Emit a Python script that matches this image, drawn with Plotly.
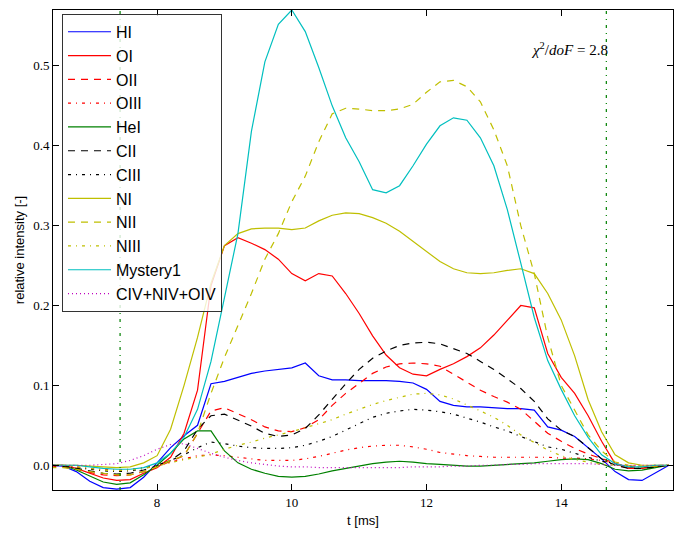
import plotly.graph_objects as go

# time grid [ms]
t = [6.4, 6.6, 6.8, 7.0, 7.2, 7.4, 7.6, 7.8, 8.0, 8.2, 8.4, 8.6, 8.8, 9.0, 9.2, 9.4,
     9.6, 9.8, 10.0, 10.2, 10.4, 10.6, 10.8, 11.0, 11.2, 11.4, 11.6, 11.8, 12.0, 12.2,
     12.4, 12.6, 12.8, 13.0, 13.2, 13.4, 13.6, 13.8, 14.0, 14.2, 14.4, 14.6, 14.8, 15.0,
     15.2, 15.4, 15.6]

HI = [0, -0.001, -0.008, -0.02, -0.028, -0.03, -0.028, -0.015, 0.003, 0.022, 0.037, 0.05,
      0.102, 0.105, 0.11, 0.115, 0.118, 0.12, 0.122, 0.128, 0.112, 0.107, 0.107, 0.106,
      0.106, 0.106, 0.105, 0.103, 0.095, 0.08, 0.075, 0.073, 0.073, 0.072, 0.071, 0.071,
      0.069, 0.048, 0.044, 0.036, 0.022, 0.008, -0.008, -0.018, -0.019, -0.01, 0]
OI = [0, 0, -0.004, -0.01, -0.016, -0.019, -0.018, -0.01, -0.003, 0.01, 0.04, 0.094,
      0.225, 0.275, 0.285, 0.278, 0.27, 0.258, 0.24, 0.231, 0.24, 0.237, 0.215, 0.19,
      0.162, 0.138, 0.122, 0.114, 0.112, 0.12, 0.127, 0.136, 0.147, 0.163, 0.181, 0.2,
      0.197, 0.14, 0.11, 0.09, 0.062, 0.03, 0.002, -0.004, -0.004, -0.002, 0]
OII = [-0.001, -0.002, -0.005, -0.009, -0.012, -0.013, -0.012, -0.008, -0.002, 0.005,
       0.012, 0.04, 0.068, 0.072, 0.065, 0.057, 0.048, 0.043, 0.042, 0.047, 0.057, 0.075,
       0.09, 0.103, 0.115, 0.123, 0.127, 0.128, 0.127, 0.124, 0.114, 0.105, 0.094, 0.086,
       0.079, 0.07, 0.055, 0.04, 0.03, 0.021, 0.014, 0.008, 0.002, -0.003, -0.003, -0.001, 0]
OIII = [0, 0, -0.002, -0.004, -0.005, -0.006, -0.005, -0.003, 0, 0.004, 0.008, 0.012,
        0.013, 0.012, 0.01, 0.008, 0.006, 0.006, 0.006, 0.008, 0.011, 0.015, 0.019, 0.022,
        0.024, 0.025, 0.025, 0.023, 0.02, 0.016, 0.014, 0.012, 0.011, 0.01, 0.01, 0.01,
        0.01, 0.01, 0.009, 0.009, 0.008, 0.006, 0.002, -0.001, -0.001, 0, 0]
HeI = [0, 0, -0.006, -0.014, -0.021, -0.024, -0.022, -0.012, 0.0, 0.015, 0.033, 0.043,
       0.043, 0.018, 0.003, -0.005, -0.01, -0.014, -0.015, -0.014, -0.011, -0.007, -0.004,
       -0.001, 0.002, 0.004, 0.005, 0.004, 0.002, 0.001, 0, -0.001, -0.001, 0, 0.001,
       0.002, 0.003, 0.005, 0.007, 0.008, 0.007, 0.002, -0.005, -0.007, -0.006, -0.003, 0]
CII = [0, -0.001, -0.004, -0.007, -0.01, -0.011, -0.01, -0.006, -0.001, 0.006, 0.018,
       0.045, 0.062, 0.064, 0.057, 0.049, 0.04, 0.036, 0.038, 0.046, 0.063, 0.083, 0.102,
       0.12, 0.134, 0.143, 0.15, 0.153, 0.154, 0.152, 0.146, 0.14, 0.13, 0.12, 0.108,
       0.096, 0.08, 0.058, 0.044, 0.036, 0.022, 0.008, 0.0, -0.004, -0.004, -0.002, 0]
CIII = [0, -0.001, -0.003, -0.005, -0.007, -0.008, -0.007, -0.004, 0, 0.006, 0.013, 0.022,
        0.029, 0.027, 0.024, 0.022, 0.021, 0.021, 0.022, 0.025, 0.03, 0.036, 0.044, 0.053,
        0.06, 0.065, 0.068, 0.07, 0.069, 0.067, 0.064, 0.059, 0.054, 0.048, 0.043, 0.036,
        0.029, 0.023, 0.02, 0.015, 0.01, 0.005, 0.001, -0.002, -0.002, -0.001, 0]
NI = [0, 0, 0, -0.001, -0.002, -0.003, -0.002, 0.003, 0.012, 0.045, 0.1, 0.16, 0.228,
      0.275, 0.29, 0.296, 0.297, 0.297, 0.295, 0.297, 0.306, 0.313, 0.316, 0.315, 0.31,
      0.303, 0.293, 0.28, 0.268, 0.255, 0.246, 0.241, 0.24, 0.241, 0.244, 0.246, 0.24,
      0.215, 0.182, 0.137, 0.082, 0.042, 0.013, 0.003, 0, 0, 0]
NII = [-0.003, -0.003, -0.005, -0.008, -0.01, -0.012, -0.012, -0.008, -0.002, 0.006,
       0.012, 0.04, 0.09, 0.135, 0.175, 0.215, 0.258, 0.29, 0.33, 0.362, 0.405, 0.44,
       0.447, 0.446, 0.444, 0.444, 0.446, 0.452, 0.467, 0.48, 0.482, 0.474, 0.455, 0.42,
       0.375, 0.3, 0.24, 0.16, 0.1, 0.068, 0.038, 0.018, 0.004, 0, -0.002, -0.001, 0]
NIII = [0, 0, -0.002, -0.004, -0.006, -0.007, -0.006, -0.004, -0.001, 0.003, 0.007, 0.01,
        0.014, 0.02, 0.025, 0.029, 0.034, 0.038, 0.042, 0.047, 0.052, 0.057, 0.064, 0.07,
        0.076, 0.081, 0.085, 0.089, 0.09, 0.088, 0.083, 0.076, 0.068, 0.06, 0.05, 0.038,
        0.028, 0.019, 0.012, 0.007, 0.004, 0.001, 0, -0.001, -0.001, 0, 0]
Mystery1 = [0, 0, 0, -0.002, -0.004, -0.005, -0.005, -0.003, 0.003, 0.015, 0.035, 0.07,
            0.13, 0.21, 0.29, 0.418, 0.505, 0.552, 0.57, 0.543, 0.498, 0.45, 0.41, 0.38,
            0.345, 0.341, 0.35, 0.375, 0.402, 0.425, 0.435, 0.432, 0.41, 0.375, 0.32, 0.253,
            0.185, 0.131, 0.095, 0.062, 0.035, 0.013, 0.002, -0.002, -0.002, 0, 0]
CNO_IV = [0, 0, 0, 0, 0.001, 0.002, 0.006, 0.012, 0.02, 0.026, 0.027, 0.021, 0.015, 0.01,
          0.006, 0.003, 0.001, -0.001, -0.002, -0.002, -0.003, -0.003, -0.003, -0.003,
          -0.003, -0.003, -0.003, -0.002, -0.002, -0.002, -0.001, -0.001, 0, 0, 0.001,
          0.001, 0.002, 0.002, 0.002, 0.002, 0.002, 0.001, 0, 0, 0, 0, 0]

names = ["HI", "OI", "OII", "OIII", "HeI", "CII", "CIII", "NI", "NII", "NIII",
         "Mystery1", "CIV+NIV+OIV"]
series = [HI, OI, OII, OIII, HeI, CII, CIII, NI, NII, NIII, Mystery1, CNO_IV]
colors = ["#0000ff", "#ff0000", "#ff0000", "#ff0000", "#008000", "#000000", "#000000",
          "#bfbf00", "#bfbf00", "#bfbf00", "#00bfbf", "#bf00bf"]
SOLID, DASH, DASHDOT, DOT = "solid", "7px,6px", "3px,5px,1px,5px", "1px,3px"
dashes = [SOLID, SOLID, DASH, DASHDOT, SOLID, DASH, DASHDOT, SOLID, DASH, DASHDOT,
          SOLID, DOT]

fit_window = [7.45, 14.67]
chi2 = 2.8

fig = go.Figure()
for name, y, c, d in zip(names, series, colors, dashes):
    fig.add_trace(go.Scatter(x=t, y=y, mode="lines", name=name,
                             line=dict(color=c, width=1.2, dash=d)))

for xv in fit_window:
    fig.add_vline(x=xv, line=dict(color="#008000", width=1.2, dash="3px,5px,1px,5px"))

fig.add_annotation(x=fit_window[1] + 0.05, y=0.521, xref="x", yref="y",
                   text="<i>χ</i><sup>2</sup>/<i>doF</i> = %.1f" % chi2,
                   showarrow=False, xanchor="right", yanchor="middle",
                   font=dict(family="Liberation Serif, serif", size=15, color="black"))

axis_common = dict(showgrid=False, zeroline=False, showline=True, linecolor="black",
                   linewidth=1, mirror="ticks", ticks="inside", ticklen=6,
                   tickcolor="black", automargin=True,
                   tickfont=dict(family="Liberation Serif, serif", size=13, color="black"))

fig.update_xaxes(range=[6.454, 15.66], tickvals=[8, 10, 12, 14],
                 title=dict(text="t [ms]", standoff=7,
                            font=dict(family="Liberation Sans, Arial, sans-serif",
                                      size=13, color="black")),
                 **axis_common)
fig.update_yaxes(range=[-0.031, 0.570], tickvals=[0.0, 0.1, 0.2, 0.3, 0.4, 0.5],
                 tickformat=".1f",
                 title=dict(text="relative intensity [-]", standoff=5,
                            font=dict(family="Liberation Sans, Arial, sans-serif",
                                      size=13, color="black")),
                 **axis_common)

fig.update_layout(
    width=682, height=538,
    margin=dict(l=53, r=9, t=10, b=48, autoexpand=False),
    paper_bgcolor="white", plot_bgcolor="white",
    showlegend=True,
    legend=dict(x=0.0145, y=0.992, xanchor="left", yanchor="top",
                bgcolor="rgba(255,255,255,0.8)", bordercolor="#333333", borderwidth=1,
                font=dict(family="Liberation Sans, Arial, sans-serif", size=16,
                          color="black"),
                itemwidth=43),
)

fig.write_html("out.html", config={"displayModeBar": False},
               post_script="document.body.style.margin='0px';")
